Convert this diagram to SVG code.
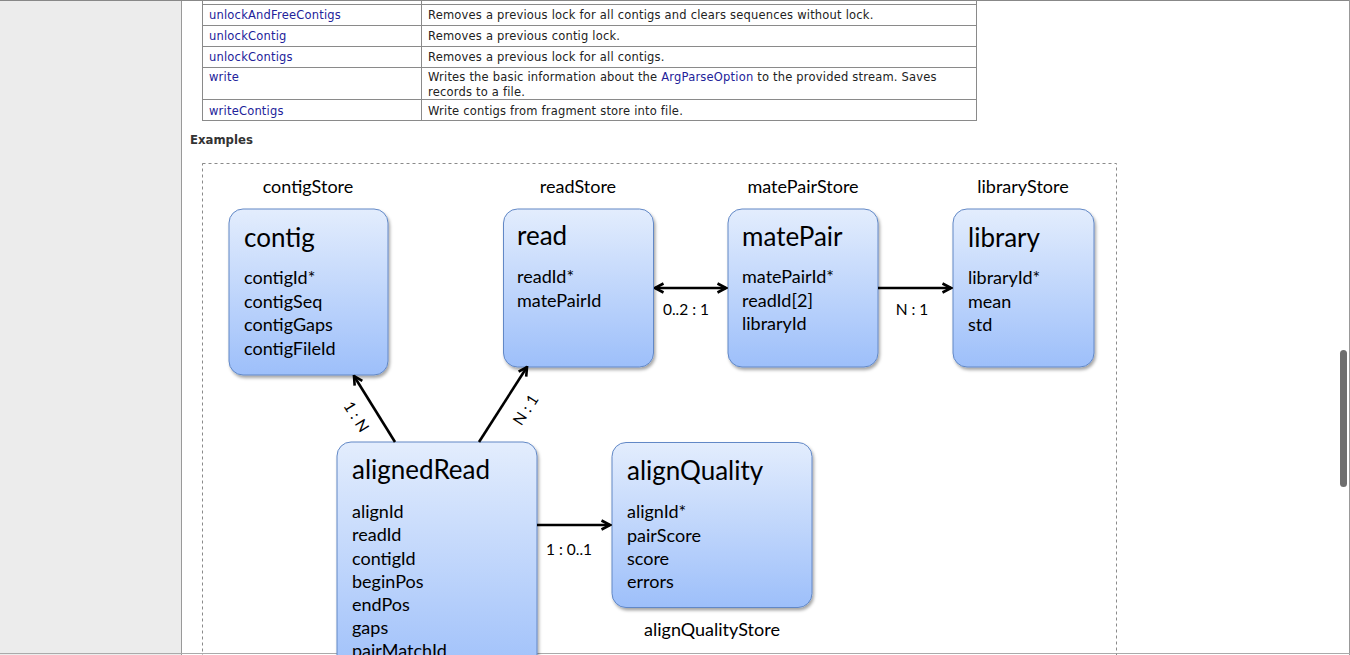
<svg xmlns="http://www.w3.org/2000/svg" width="1350" height="655" viewBox="0 0 1350 655">
<defs>
<linearGradient id="boxg" x1="0" y1="0" x2="0" y2="1">
<stop offset="0" stop-color="#e3edfd"/>
<stop offset="1" stop-color="#9dbffa"/>
</linearGradient>
<filter id="sh" x="-10%" y="-10%" width="130%" height="130%">
<feDropShadow dx="1.5" dy="2.5" stdDeviation="1.8" flood-color="#000" flood-opacity="0.35"/>
</filter>
<marker id="arr" viewBox="0 0 12 12" refX="10.5" refY="6" markerWidth="12" markerHeight="12" markerUnits="userSpaceOnUse" orient="auto-start-reverse">
<path d="M2,1.5 L10.5,6 L2,10.5" fill="none" stroke="#000" stroke-width="2.6"/>
</marker>
</defs>
<style>
.tbl{fill:none;stroke:#8a8a8a;stroke-width:1}
.lnk{font-family:"DejaVu Sans",Verdana,sans-serif;font-size:11.5px;letter-spacing:0.2px;fill:#22229a}
.dsc{font-family:"DejaVu Sans",Verdana,sans-serif;font-size:11.5px;letter-spacing:0.2px;fill:#222}
.box{fill:url(#boxg);stroke:#6288c6;stroke-width:1;filter:url(#sh)}
.ttl{font-family:Lato,"Open Sans",sans-serif;font-size:26px;fill:#000}
.fld{font-family:Lato,"Open Sans",sans-serif;font-size:18px;fill:#000}
.sto{font-family:Lato,"Open Sans",sans-serif;font-size:18px;fill:#000;text-anchor:middle}
.cl{font-family:Lato,"Open Sans",sans-serif;font-size:15.5px;fill:#000;text-anchor:middle}
.con{stroke:#000;stroke-width:2.6;fill:none}
</style>
<rect x="0" y="0" width="1350" height="655" fill="#fff"/>
<rect x="0" y="0" width="181" height="655" fill="#ececec"/>
<line x1="181.5" y1="0" x2="181.5" y2="655" stroke="#999" stroke-width="1"/>
<line x1="0" y1="0.5" x2="1350" y2="0.5" stroke="#888" stroke-width="1"/>
<line x1="1349.5" y1="0" x2="1349.5" y2="655" stroke="#999" stroke-width="1"/>
<line x1="0" y1="653.5" x2="1350" y2="653.5" stroke="#aaa" stroke-width="1"/>
<rect x="1340" y="350" width="7" height="137" rx="3.5" fill="#6e6e6e"/>

<g id="table">
<line class="tbl" x1="202.5" y1="0" x2="202.5" y2="121"/>
<line class="tbl" x1="421.5" y1="0" x2="421.5" y2="121"/>
<line class="tbl" x1="976.5" y1="0" x2="976.5" y2="121"/>
<line class="tbl" x1="202.5" y1="4.5" x2="976.5" y2="4.5"/>
<line class="tbl" x1="202.5" y1="25.5" x2="976.5" y2="25.5"/>
<line class="tbl" x1="202.5" y1="46.5" x2="976.5" y2="46.5"/>
<line class="tbl" x1="202.5" y1="67.5" x2="976.5" y2="67.5"/>
<line class="tbl" x1="202.5" y1="99.5" x2="976.5" y2="99.5"/>
<line class="tbl" x1="202.5" y1="120.5" x2="976.5" y2="120.5"/>
<text class="lnk" x="209" y="19">unlockAndFreeContigs</text>
<text class="dsc" x="428" y="19">Removes a previous lock for all contigs and clears sequences without lock.</text>
<text class="lnk" x="209" y="40">unlockContig</text>
<text class="dsc" x="428" y="40">Removes a previous contig lock.</text>
<text class="lnk" x="209" y="61">unlockContigs</text>
<text class="dsc" x="428" y="61">Removes a previous lock for all contigs.</text>
<text class="lnk" x="209" y="81">write</text>
<text class="dsc" x="428" y="81">Writes the basic information about the <tspan fill="#22229a">ArgParseOption</tspan> to the provided stream. Saves</text>
<text class="dsc" x="428" y="96">records to a file.</text>
<text class="lnk" x="209" y="115">writeContigs</text>
<text class="dsc" x="428" y="115">Write contigs from fragment store into file.</text>
</g>

<text x="190" y="144" font-family="'DejaVu Sans',Verdana,sans-serif" font-size="11.7" font-weight="bold" fill="#333">Examples</text>

<rect x="202.5" y="163.5" width="914" height="500" fill="none" stroke="#8a8a8a" stroke-width="1" stroke-dasharray="3,3"/>

<g id="contigStore">
<text class="sto" x="308" y="193">contigStore</text>
<rect class="box" x="229" y="209" width="159" height="166" rx="14"/>
<text class="ttl" x="244" y="247">contig</text>
<text class="fld" x="244" y="284">contigId*</text>
<text class="fld" x="244" y="307.5">contigSeq</text>
<text class="fld" x="244" y="331">contigGaps</text>
<text class="fld" x="244" y="354.5">contigFileId</text>
</g>

<g id="readStore">
<text class="sto" x="578" y="193">readStore</text>
<rect class="box" x="503.5" y="209" width="150" height="158" rx="14"/>
<text class="ttl" x="517" y="245">read</text>
<text class="fld" x="517" y="283">readId*</text>
<text class="fld" x="517" y="306.5">matePairId</text>
</g>

<g id="matePairStore">
<text class="sto" x="803" y="193">matePairStore</text>
<rect class="box" x="728" y="209" width="150" height="158" rx="14"/>
<text class="ttl" x="742" y="246">matePair</text>
<text class="fld" x="742" y="283">matePairId*</text>
<text class="fld" x="742" y="306.5">readId[2]</text>
<text class="fld" x="742" y="330">libraryId</text>
</g>

<g id="libraryStore">
<text class="sto" x="1023" y="193">libraryStore</text>
<rect class="box" x="953" y="209" width="141" height="158" rx="14"/>
<text class="ttl" x="968" y="247">library</text>
<text class="fld" x="968" y="284">libraryId*</text>
<text class="fld" x="968" y="307.5">mean</text>
<text class="fld" x="968" y="331">std</text>
</g>

<g id="alignedRead">
<rect class="box" x="337" y="442" width="200" height="240" rx="14"/>
<text class="ttl" x="352" y="479">alignedRead</text>
<text class="fld" x="352" y="518">alignId</text>
<text class="fld" x="352" y="541">readId</text>
<text class="fld" x="352" y="564.5">contigId</text>
<text class="fld" x="352" y="587.5">beginPos</text>
<text class="fld" x="352" y="610.5">endPos</text>
<text class="fld" x="352" y="633.5">gaps</text>
<text class="fld" x="352" y="657">pairMatchId</text>
</g>

<g id="alignQualityStore">
<rect class="box" x="612" y="442.5" width="200" height="165" rx="14"/>
<text class="ttl" x="627" y="480">alignQuality</text>
<text class="fld" x="627" y="518">alignId*</text>
<text class="fld" x="627" y="541.5">pairScore</text>
<text class="fld" x="627" y="564.5">score</text>
<text class="fld" x="627" y="588">errors</text>
<text class="sto" x="712" y="636">alignQualityStore</text>
</g>

<g id="connectors">
<line class="con" x1="655" y1="288" x2="726" y2="288" marker-start="url(#arr)" marker-end="url(#arr)"/>
<text class="cl" x="686" y="315">0..2 : 1</text>
<line class="con" x1="878" y1="288" x2="951" y2="288" marker-end="url(#arr)"/>
<text class="cl" x="912" y="315">N : 1</text>
<line class="con" x1="537" y1="525" x2="610" y2="525" marker-end="url(#arr)"/>
<text class="cl" x="569" y="555">1 : 0..1</text>
<line class="con" x1="395" y1="442" x2="354" y2="376" marker-end="url(#arr)"/>
<text class="cl" transform="translate(356,417) rotate(58)" x="0" y="5">1 : N</text>
<line class="con" x1="479" y1="442" x2="527" y2="367" marker-end="url(#arr)"/>
<text class="cl" transform="translate(526,410) rotate(-57)" x="0" y="5">N : 1</text>
</g>
</svg>
